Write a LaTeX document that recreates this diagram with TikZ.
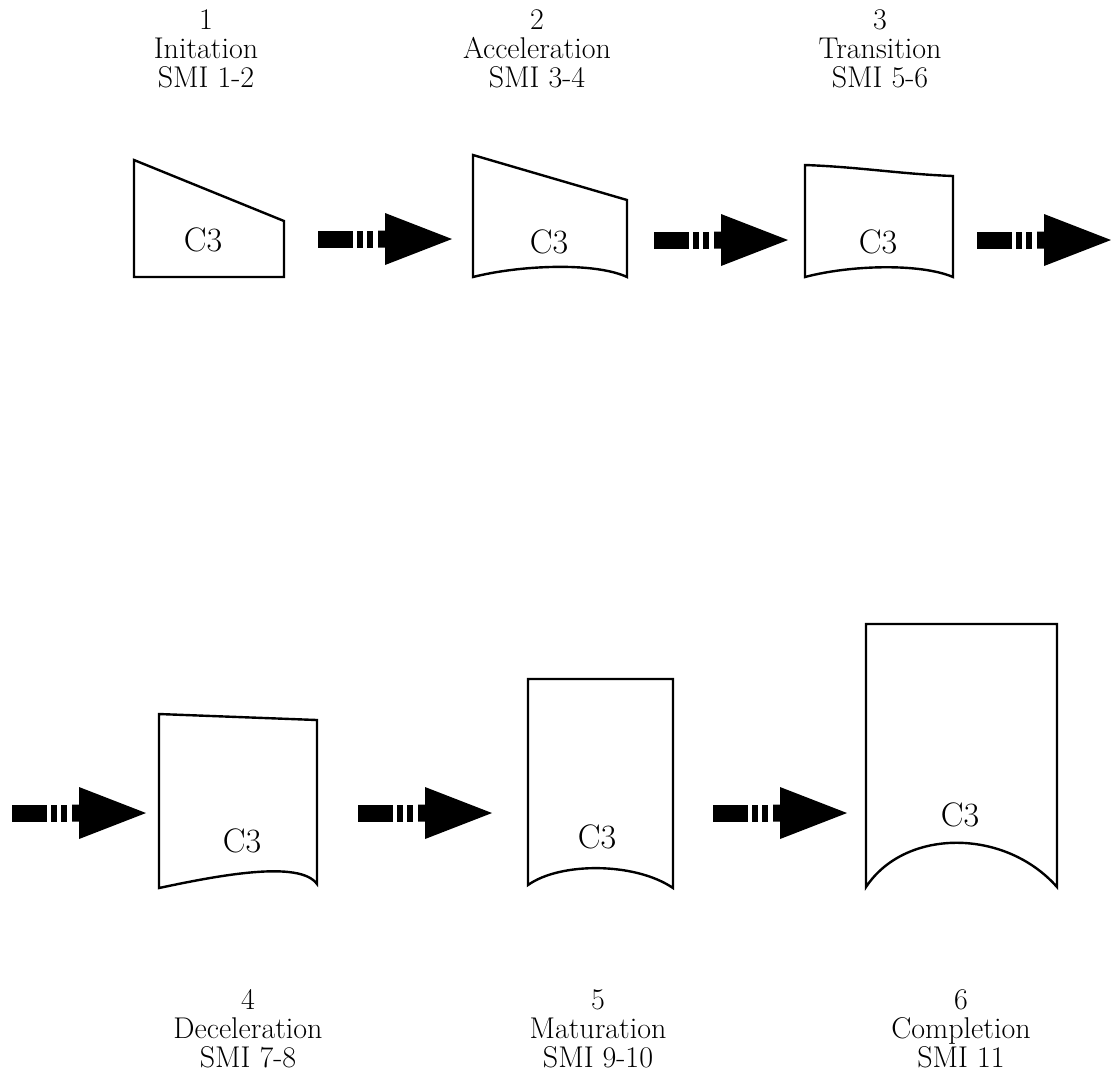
\documentclass[tikz,border=0pt]{standalone}
\usepackage{tikz}
\usetikzlibrary{positioning}
\tikzset{
  stage/.style={draw, line width=1.2pt, line join=miter},
  stagelabel/.style={align=center, inner sep=0pt, anchor=north, font=\fontsize{15}{14.5}\selectfont},
  cell/.style={inner sep=0pt, font=\fontsize{17}{18}\selectfont},
  stagearrow/.pic={
    \fill (0,-8.5) rectangle (35,8.5);
    \fill (39,-8.5) rectangle (45,8.5);
    \fill (49,-8.5) rectangle (55,8.5);
    \fill (60,-8.5) -- (67,-8.5) -- (67,-26) -- (134,0) -- (67,26) -- (67,8.5) -- (60,8.5) -- cycle;
  }
}

\begin{document}
\begin{tikzpicture}[x=0.5pt, y=-0.5pt]
  \useasboundingbox (0,0) rectangle (1111,1084);

  % top row
  \draw[stage] (134,160) -- (284,221) -- (284,277) -- (134,277) -- cycle;
  \draw[stage] (473,155) -- (627,200) -- (627,277)
    .. controls (595,262) and (520,265) .. (473,277) -- cycle;
  \draw[stage] (805,165) .. controls (860,167) and (900,174) .. (953,176) -- (953,277)
    .. controls (920,263) and (850,265) .. (805,277) -- cycle;

  \node[cell] (c1) at (203,240) {C3};
  \node[cell] (c2) at (549,242) {C3};
  \node[cell] (c3) at (878,242) {C3};

  \node[stagelabel] (l1) at (206,9) {1\\Initation\\SMI 1-2};
  \node[stagelabel] (l2) at (537,9) {2\\Acceleration\\SMI 3-4};
  \node[stagelabel] (l3) at (880,9) {3\\Transition\\SMI 5-6};

  \pic (a1) at (318,239) {stagearrow};
  \pic (a2) at (654,240) {stagearrow};
  \pic (a3) at (977,240) {stagearrow};

  % bottom row
  \draw[stage] (159,714) -- (317,720) -- (317,884)
    .. controls (300,860) and (220,875) .. (159,888) -- cycle;
  \draw[stage] (528,679) -- (673,679) -- (673,888)
    .. controls (635,862) and (560,862) .. (528,885) -- cycle;
  \draw[stage] (866,624) -- (1057,624) -- (1057,887)
    .. controls (1005,828) and (905,828) .. (866,887) -- cycle;

  \node[cell] (c4) at (242,841) {C3};
  \node[cell] (c5) at (597,837) {C3};
  \node[cell] (c6) at (960,815) {C3};

  \node[stagelabel] (l4) at (248,989) {4\\Deceleration\\SMI 7-8};
  \node[stagelabel] (l5) at (598,989) {5\\Maturation\\SMI 9-10};
  \node[stagelabel] (l6) at (961,989) {6\\Completion\\SMI 11};

  \pic (a4) at (12,813) {stagearrow};
  \pic (a5) at (358,813) {stagearrow};
  \pic (a6) at (713,813) {stagearrow};
\end{tikzpicture}
\end{document}
